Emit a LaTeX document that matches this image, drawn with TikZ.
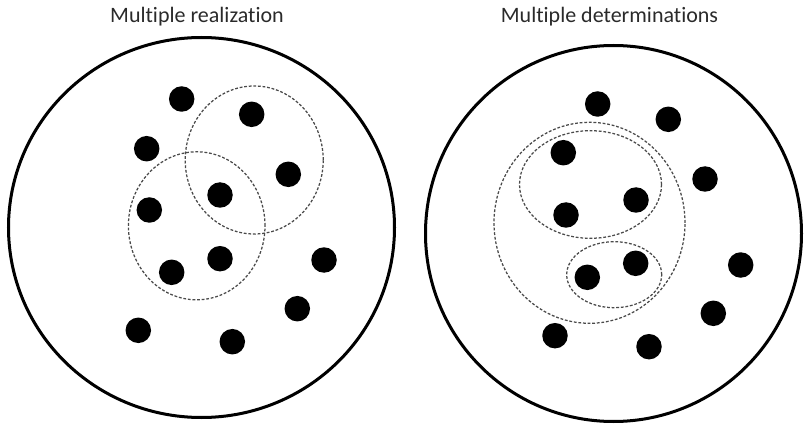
\documentclass[tikz,border=0pt]{standalone}
\usepackage{fontspec}
\setmainfont[Ligatures={NoCommon}]{Carlito}
\definecolor{dashgray}{HTML}{4A4A4A}
\definecolor{titlegray}{HTML}{2A2A2A}
\begin{document}
\begin{tikzpicture}[x=1pt,y=-1pt,
  dot/.style={circle,fill=black,draw=none,minimum size=25.5pt,inner sep=0pt},
  bigring/.style={draw=black,line width=3pt},
  dashring/.style={draw=dashgray,line width=1.25pt,dash pattern=on 2.8pt off 1.8pt},
  title/.style={anchor=base,text=titlegray,font=\fontsize{22}{26}\selectfont,inner sep=0pt}]
\useasboundingbox (0,0) rectangle (804,425);
% titles
\node[title] (t1) at (197,22.7) {Multiple realization};
\node[title] (t2) at (609.5,22.7) {Multiple determinations};
% big circles
\draw[bigring] (201.5,227.5) ellipse [x radius=193pt, y radius=190pt];
\draw[bigring] (613.5,233.5) ellipse [x radius=188pt, y radius=188pt];
% left dashed circles
\draw[dashring] (254.2,160) ellipse [x radius=69pt, y radius=74pt];
\draw[dashring] (196.7,225.8) ellipse [x radius=68.3pt, y radius=74pt];
% right dashed ellipses
\draw[dashring] (589.5,222.8) ellipse [x radius=95.5pt, y radius=100.5pt];
\draw[dashring] (590.5,184.5) ellipse [x radius=71pt, y radius=53.8pt];
\draw[dashring] (614.2,274.7) ellipse [x radius=47.5pt, y radius=33pt];
% left dots
\node[dot] (l1) at (181.7,99) {};
\node[dot] (l2) at (251.7,114.3) {};
\node[dot] (l3) at (146.7,148.7) {};
\node[dot] (l4) at (288.3,174.3) {};
\node[dot] (l5) at (220,195) {};
\node[dot] (l6) at (149.3,210) {};
\node[dot] (l7) at (220,258.7) {};
\node[dot] (l8) at (171.7,272.3) {};
\node[dot] (l9) at (324,260) {};
\node[dot] (l10) at (297.3,308.7) {};
\node[dot] (l11) at (138.3,330.3) {};
\node[dot] (l12) at (232.3,341.7) {};
% right dots
\node[dot] (r1) at (597.7,104) {};
\node[dot] (r2) at (668.3,119.3) {};
\node[dot] (r3) at (563.3,152.7) {};
\node[dot] (r4) at (705,179) {};
\node[dot] (r5) at (636,200) {};
\node[dot] (r6) at (566,215) {};
\node[dot] (r7) at (635.7,263.3) {};
\node[dot] (r8) at (587.3,277.3) {};
\node[dot] (r9) at (740.7,265) {};
\node[dot] (r10) at (713.3,313.3) {};
\node[dot] (r11) at (555,335.7) {};
\node[dot] (r12) at (649,346.7) {};
\end{tikzpicture}
\end{document}
